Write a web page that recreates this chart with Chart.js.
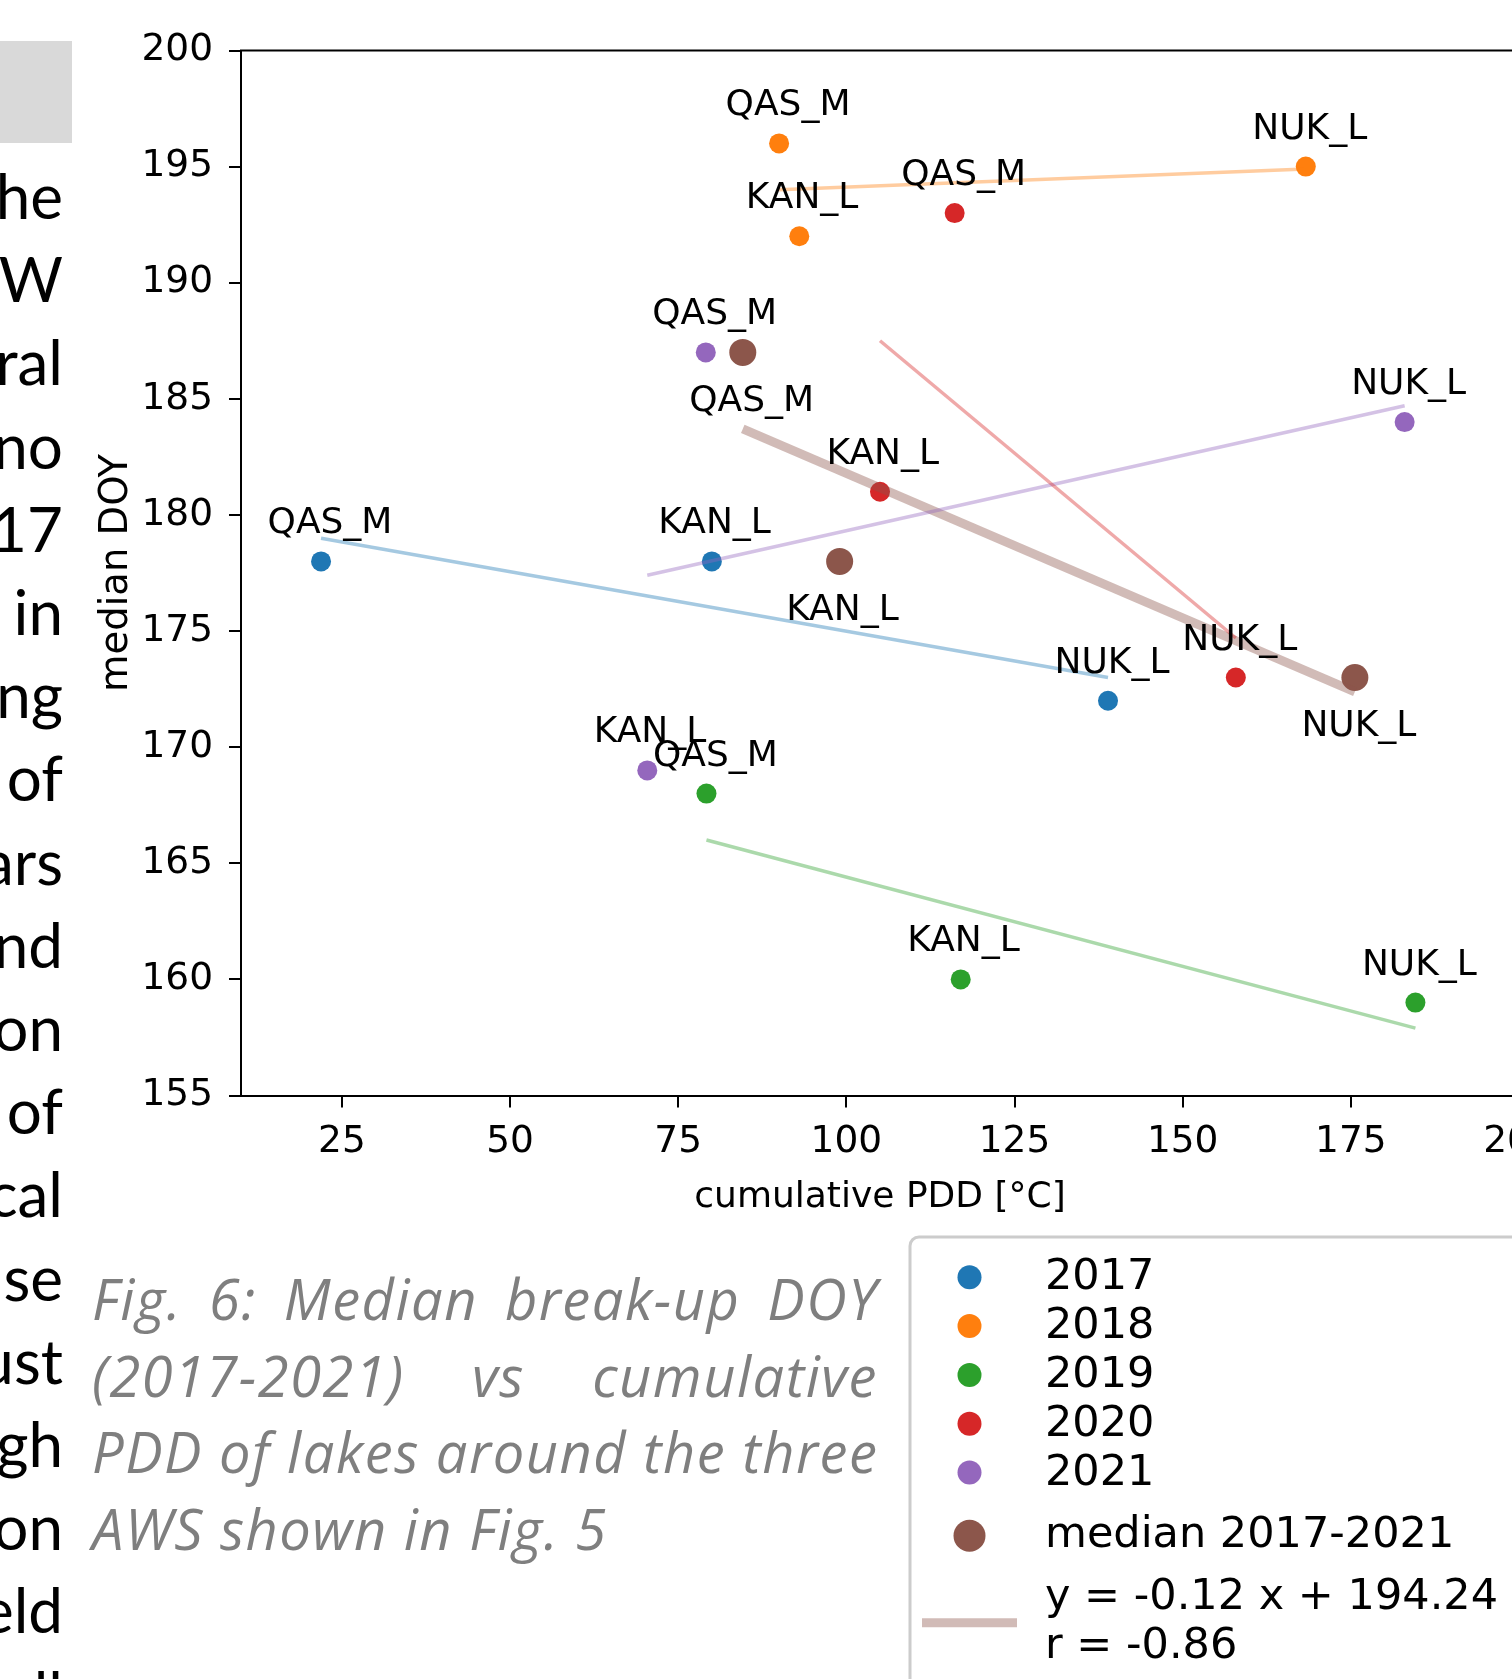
<!DOCTYPE html>
<html>
<head>
<meta charset="utf-8">
<title>Median break-up DOY vs cumulative PDD</title>
<script src="https://cdn.jsdelivr.net/npm/chart.js@4.4.1/dist/chart.umd.min.js"></script>
<style>
  html, body { margin: 0; padding: 0; background: #fff; }
  body { width: 1512px; height: 1679px; overflow: hidden; position: relative; }
  #chart { position: absolute; left: 0; top: 0; }
  #shade { position: absolute; left: 0; top: 41px; width: 72px; height: 102px; background: #d9d9d9; }
  #bodytext {
    position: absolute; right: calc(1512px - 63px); top: 154px;
    font-family: Lato, "Open Sans", sans-serif; font-size: 62px; line-height: 83.2px;
    color: #000; text-align: right; white-space: nowrap;
  }
  #caption {
    position: absolute; left: 92px; top: 1260px; width: 786px;
    font-family: "Open Sans", Lato, sans-serif; font-style: italic; font-size: 56px;
    letter-spacing: 1.5px; line-height: 76.5px; color: #7f7f7f; white-space: nowrap;
  }
  #caption .j { text-align: justify; text-align-last: justify; }
</style>
</head>
<body>
<div id="shade"></div>
<div id="bodytext">he<br>W<br>ral<br>no<br>17<br>in<br>ng<br>of<br>ars<br>nd<br>on<br>of<br>cal<br>se<br>ust<br>gh<br>on<br>eld<br>ll</div>
<div id="caption">
  <div class="j">Fig. 6: Median break-up DOY</div>
  <div class="j">(2017-2021) vs cumulative</div>
  <div class="j">PDD of lakes around the three</div>
  <div>AWS shown in Fig. 5</div>
</div>
<canvas id="chart" width="1600" height="1679"></canvas>
<script>
// Stations (lakes grouped around each AWS) and years
const stations = ['QAS_M', 'KAN_L', 'NUK_L'];
const years = ['2017', '2018', '2019', '2020', '2021'];

// cumulative PDD [°C] and median break-up DOY, one entry per station
const pdd2017 = [21.9, 80.0, 138.9];
const doy2017 = [178, 178, 172];
const pdd2018 = [90.0, 93.0, 168.3];
const doy2018 = [196, 192, 195];
const pdd2019 = [79.2, 117.0, 184.6];
const doy2019 = [168, 160, 159];
const pdd2020 = [116.1, 105.0, 157.9];
const doy2020 = [193, 181, 173];
const pdd2021 = [79.1, 70.4, 183.0];
const doy2021 = [187, 169, 184];
const pddMedian = [84.6, 99.0, 175.6];
const doyMedian = [187, 178, 173];

// yearly fit segments: start and end of each year's PDD range
const trendX0 = [21.9, 90.0, 79.2, 105.0, 70.4];
const trendY0 = [179.0, 194.0, 166.0, 187.5, 177.4];
const trendX1 = [138.9, 168.3, 184.6, 157.9, 183.0];
const trendY1 = [173.0, 194.9, 157.9, 174.7, 184.7];

// linear fit of the 2017-2021 medians
const fitSlope = -0.1245;
const fitIntercept = 194.24;
const fitR = -0.86;

// axis ticks
const xTicks = [25, 50, 75, 100, 125, 150, 175, 200];
const yTicks = [155, 160, 165, 170, 175, 180, 185, 190, 195, 200];

const pddByYear = [pdd2017, pdd2018, pdd2019, pdd2020, pdd2021];
const doyByYear = [doy2017, doy2018, doy2019, doy2020, doy2021];
const yearColors = ['#1f77b4', '#ff7f0e', '#2ca02c', '#d62728', '#9467bd'];
const medianColor = '#8c564b';

function fade(hex, a) {
  const n = parseInt(hex.slice(1), 16);
  return `rgba(${(n >> 16) & 255},${(n >> 8) & 255},${n & 255},${a})`;
}

const FONT = '"DejaVu Sans", Verdana, sans-serif';

const datasets = [];
years.forEach((yr, i) => {
  datasets.push({
    label: yr,
    kind: 'year',
    data: stations.map((s, j) => ({ x: pddByYear[i][j], y: doyByYear[i][j], name: s })),
    backgroundColor: yearColors[i],
    borderWidth: 0,
    pointRadius: 10,
    pointHoverRadius: 10,
    order: 2
  });
});
datasets.push({
  label: 'median 2017-2021',
  kind: 'median',
  data: stations.map((s, j) => ({ x: pddMedian[j], y: doyMedian[j], name: s })),
  backgroundColor: medianColor,
  borderWidth: 0,
  pointRadius: 13.5,
  pointHoverRadius: 13.5,
  order: 2
});
years.forEach((yr, i) => {
  datasets.push({
    label: 'fit ' + yr,
    kind: 'trend',
    data: [{ x: trendX0[i], y: trendY0[i] }, { x: trendX1[i], y: trendY1[i] }],
    showLine: true,
    borderColor: fade(yearColors[i], 0.4),
    borderWidth: 3.5,
    pointRadius: 0,
    pointHoverRadius: 0,
    order: 1
  });
});
const fx0 = Math.min(...pddMedian);
const fx1 = Math.max(...pddMedian);
datasets.push({
  label: `y = ${fitSlope.toFixed(2)} x + ${fitIntercept.toFixed(2)}\nr = ${fitR.toFixed(2)}`,
  kind: 'fit',
  data: [{ x: fx0, y: fitSlope * fx0 + fitIntercept }, { x: fx1, y: fitSlope * fx1 + fitIntercept }],
  showLine: true,
  borderColor: fade(medianColor, 0.4),
  borderWidth: 9,
  pointRadius: 0,
  pointHoverRadius: 0,
  order: 1
});

// station names next to every marker
const pointNames = {
  id: 'pointNames',
  afterDatasetsDraw(chart) {
    const ctx = chart.ctx;
    ctx.save();
    ctx.font = `36px ${FONT}`;
    ctx.fillStyle = '#000';
    ctx.textAlign = 'left';
    ctx.textBaseline = 'alphabetic';
    chart.data.datasets.forEach((ds, di) => {
      if (ds.kind !== 'year' && ds.kind !== 'median') return;
      const meta = chart.getDatasetMeta(di);
      const dy = ds.kind === 'median' ? 58.5 : -28;
      meta.data.forEach((pt, j) => {
        ctx.fillText(ds.data[j].name, pt.x - 53.5, pt.y + dy);
      });
    });
    ctx.restore();
  }
};

// closing spines, axis titles and the legend box
const frame = {
  id: 'frame',
  afterDraw(chart) {
    const ctx = chart.ctx;
    const a = chart.chartArea;
    ctx.save();
    ctx.strokeStyle = '#000';
    ctx.lineWidth = 2;
    ctx.beginPath();
    ctx.moveTo(a.left - 1, a.top);
    ctx.lineTo(a.right, a.top);
    ctx.lineTo(a.right, a.bottom);
    ctx.stroke();

    ctx.fillStyle = '#000';
    ctx.font = `36px ${FONT}`;
    ctx.textAlign = 'center';
    ctx.textBaseline = 'alphabetic';
    ctx.fillText('cumulative PDD [°C]', (a.left + a.right) / 2, 1207);
    ctx.save();
    ctx.font = `38.5px ${FONT}`;
    ctx.translate(127, (a.top + a.bottom) / 2);
    ctx.rotate(-Math.PI / 2);
    ctx.fillText('median DOY', 0, 0);
    ctx.restore();

    // legend
    const lx = 910, ly = 1237;
    ctx.beginPath();
    ctx.roundRect(lx, ly, 800, 600, 9);
    ctx.fillStyle = '#fff';
    ctx.fill();
    ctx.strokeStyle = '#cccccc';
    ctx.lineWidth = 3;
    ctx.stroke();

    const mx = 969.5, tx = 1045;
    ctx.font = `43px ${FONT}`;
    ctx.textAlign = 'left';
    let rowY = 1277.3;
    chart.data.datasets.forEach((ds) => {
      if (ds.kind === 'year') {
        ctx.fillStyle = ds.backgroundColor;
        ctx.beginPath(); ctx.arc(mx, rowY, 12, 0, Math.PI * 2); ctx.fill();
        ctx.fillStyle = '#000';
        ctx.fillText(ds.label, tx, rowY + 12);
        rowY += 48.8;
      }
    });
    chart.data.datasets.forEach((ds) => {
      if (ds.kind === 'median') {
        const cy = 1535.7;
        ctx.fillStyle = ds.backgroundColor;
        ctx.beginPath(); ctx.arc(mx, cy, 16, 0, Math.PI * 2); ctx.fill();
        ctx.fillStyle = '#000';
        ctx.fillText(ds.label, tx, cy + 11);
      }
      if (ds.kind === 'fit') {
        const cy = 1622.7;
        ctx.strokeStyle = ds.borderColor;
        ctx.lineWidth = 9;
        ctx.beginPath(); ctx.moveTo(922, cy); ctx.lineTo(1017, cy); ctx.stroke();
        ctx.fillStyle = '#000';
        ds.label.split('\n').forEach((line, k) => ctx.fillText(line, tx, 1609.3 + k * 49));
      }
    });
    ctx.restore();
  }
};

new Chart(document.getElementById('chart'), {
  type: 'scatter',
  data: { datasets },
  plugins: [pointNames, frame],
  options: {
    responsive: false,
    animation: false,
    devicePixelRatio: 1,
    layout: { padding: { left: 0, top: 50.5, right: 1600 - 1519, bottom: 0 } },
    plugins: { legend: { display: false }, tooltip: { enabled: false } },
    events: [],
    scales: {
      x: {
        type: 'linear', position: 'bottom', min: 10, max: 200,
        afterFit: (s) => { s.height = 1679 - 1095.5; },
        afterBuildTicks: (s) => { s.ticks = xTicks.map((v) => ({ value: v })); },
        grid: { drawOnChartArea: false, drawTicks: true, tickLength: 12, color: '#000', lineWidth: 2 },
        border: { display: true, color: '#000', width: 2 },
        ticks: { font: { family: FONT, size: 37.5 }, color: '#000', padding: 12, maxRotation: 0, autoSkip: false }
      },
      y: {
        type: 'linear', position: 'left', min: 155, max: 200,
        afterFit: (s) => { s.width = 241; },
        afterBuildTicks: (s) => { s.ticks = yTicks.map((v) => ({ value: v })); },
        grid: { drawOnChartArea: false, drawTicks: true, tickLength: 12, color: '#000', lineWidth: 2 },
        border: { display: true, color: '#000', width: 2 },
        ticks: { font: { family: FONT, size: 37.5 }, color: '#000', padding: 16, autoSkip: false }
      }
    }
  }
});
</script>
</body>
</html>
